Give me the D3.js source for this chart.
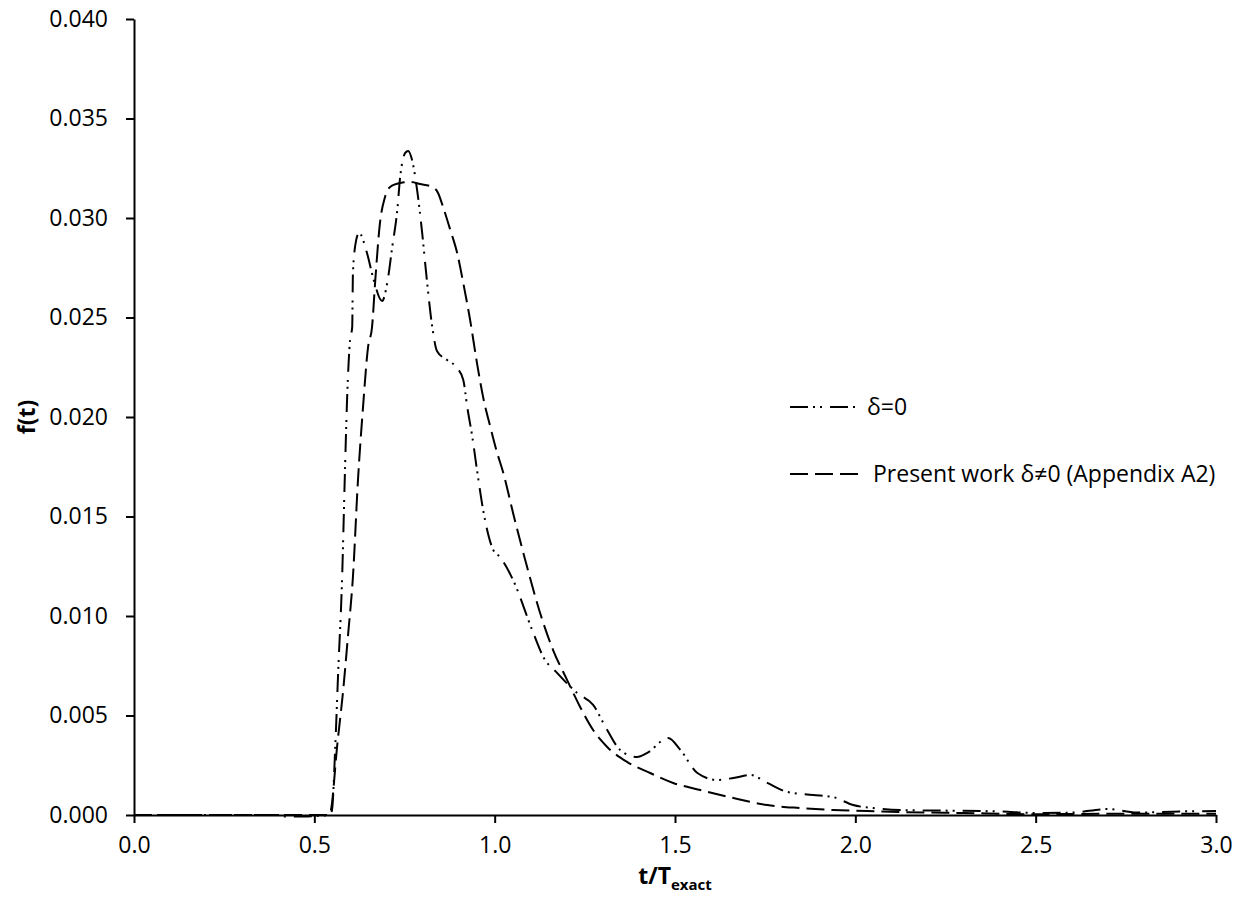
<!DOCTYPE html>
<html><head><meta charset="utf-8">
<script src="https://cdn.jsdelivr.net/npm/d3@7"></script>
<style>body{margin:0;background:#fff;} text{font-family:"Open Sans",sans-serif;fill:#000;}</style>
</head><body><svg id="c" width="1244" height="903"></svg>
<script>
const xTicks = [0.0,0.5,1.0,1.5,2.0,2.5,3.0];
const yTicks = [0.000,0.005,0.010,0.015,0.020,0.025,0.030,0.035,0.040];
const seriesNames = ["δ=0","Present work δ≠0 (Appendix A2)"];
// δ=0 (dash-dot-dot)
const t0 = [0,0.40,0.42,0.46,0.50,0.544,0.549,0.558,0.566,0.577,0.585,0.591,0.599,0.605,0.607,0.616,0.624,0.646,0.663,0.688,0.702,0.716,0.730,0.738,0.752,0.760,0.771,0.785,0.799,0.810,0.827,0.840,0.868,0.896,0.913,0.924,0.938,0.951,0.968,0.996,1.015,1.051,1.107,1.135,1.173,1.229,1.273,1.312,1.348,1.395,1.423,1.481,1.515,1.562,1.617,1.662,1.709,1.756,1.811,1.883,1.939,1.994,2.050,2.125,2.25,2.40,2.50,2.60,2.70,2.78,2.90,3.0];
const f0 = [0,0,-0.00008,-0.00008,-0.00005,0,0.00025,0.00342,0.00714,0.01191,0.01734,0.0210,0.02387,0.02452,0.02724,0.02889,0.02925,0.02824,0.0270,0.02583,0.02673,0.02854,0.0304,0.03206,0.03327,0.03337,0.03291,0.0314,0.02925,0.02724,0.02452,0.02332,0.02286,0.02246,0.02186,0.0205,0.019,0.01734,0.01533,0.01332,0.01296,0.01181,0.00915,0.00794,0.00714,0.00613,0.00553,0.00427,0.00327,0.00291,0.00312,0.00387,0.00327,0.00211,0.00176,0.00186,0.00201,0.00161,0.00116,0.00101,0.0009,0.0005,0.00035,0.00025,0.00022,0.00018,0.0001,0.00012,0.0003,0.00012,0.00018,0.0002];
// Present work (dashed)
const t1 = [0,0.54,0.546,0.563,0.580,0.594,0.607,0.621,0.635,0.649,0.660,0.669,0.682,0.696,0.710,0.738,0.766,0.793,0.827,0.843,0.857,0.877,0.896,0.913,0.932,0.951,0.968,0.988,1.007,1.024,1.051,1.090,1.126,1.162,1.201,1.237,1.273,1.312,1.368,1.431,1.495,1.570,1.662,1.756,1.847,1.939,2.033,2.125,2.3,2.5,2.7,3.0];
const f1 = [0,0,0.00025,0.00342,0.00628,0.00915,0.01196,0.01683,0.0205,0.02352,0.02452,0.02688,0.02975,0.03106,0.03156,0.03176,0.03181,0.03171,0.03156,0.03126,0.03055,0.0294,0.02824,0.02673,0.02487,0.02271,0.0210,0.0195,0.01819,0.01719,0.01518,0.01246,0.01015,0.00829,0.00678,0.00543,0.00427,0.00342,0.00266,0.00211,0.00161,0.00126,0.00085,0.0005,0.00035,0.00025,0.0002,0.00015,0.0001,0.00004,0.00006,0.00006];

const svg = d3.select("#c");
const x = d3.scaleLinear().domain([0,3]).range([134,1216]);
const y = d3.scaleLinear().domain([0,0.04]).range([815,19]);
const FS = 23;

const xa = svg.append("g").attr("transform","translate(0,815)")
  .call(d3.axisBottom(x).tickValues(xTicks).tickFormat(d3.format(".1f")).tickSize(8).tickSizeOuter(0).tickPadding(14));
const ya = svg.append("g").attr("transform","translate(134,0)")
  .call(d3.axisLeft(y).tickValues(yTicks).tickFormat(d3.format(".3f")).tickSize(8).tickSizeOuter(0).tickPadding(18));
[xa,ya].forEach(a=>{
  a.selectAll("path,line").attr("stroke","#000").attr("stroke-width",2);
  a.selectAll("text").attr("font-size",FS).attr("font-family","Open Sans");
});

const line = d3.line().x(d=>x(d[0])).y(d=>y(d[1])).curve(d3.curveMonotoneX);
const d0 = t0.map((t,i)=>[t,f0[i]]);
const d1 = t1.map((t,i)=>[t,f1[i]]);
const dashDD = "18,5,2,5,2,8", dashD = "18,7";
svg.append("path").attr("d",line(d1)).attr("fill","none").attr("stroke","#000").attr("stroke-width",2).attr("stroke-dasharray",dashD);
svg.append("path").attr("d",line(d0)).attr("fill","none").attr("stroke","#000").attr("stroke-width",2).attr("stroke-dasharray",dashDD);

// legend
const leg = [{n:seriesNames[0],dash:dashDD,y:407,tx:867},{n:seriesNames[1],dash:dashD,y:474,tx:873}];
leg.forEach(l=>{
  svg.append("line").attr("x1",790).attr("x2",858).attr("y1",l.y).attr("y2",l.y)
    .attr("stroke","#000").attr("stroke-width",2).attr("stroke-dasharray",l.dash);
  svg.append("text").attr("x",l.tx).attr("y",l.y).attr("dy","0.35em").attr("font-size",FS).text(l.n);
});

// axis titles
svg.append("text").attr("transform","translate(35,417) rotate(-90)").attr("text-anchor","middle")
  .attr("font-size",FS).attr("font-weight","bold").text("f(t)");
const xt = svg.append("text").attr("x",675).attr("y",884).attr("text-anchor","middle")
  .attr("font-size",FS).attr("font-weight","bold");
xt.append("tspan").text("t/T");
xt.append("tspan").attr("font-size",15).attr("dy",6).text("exact");
</script></body></html>
